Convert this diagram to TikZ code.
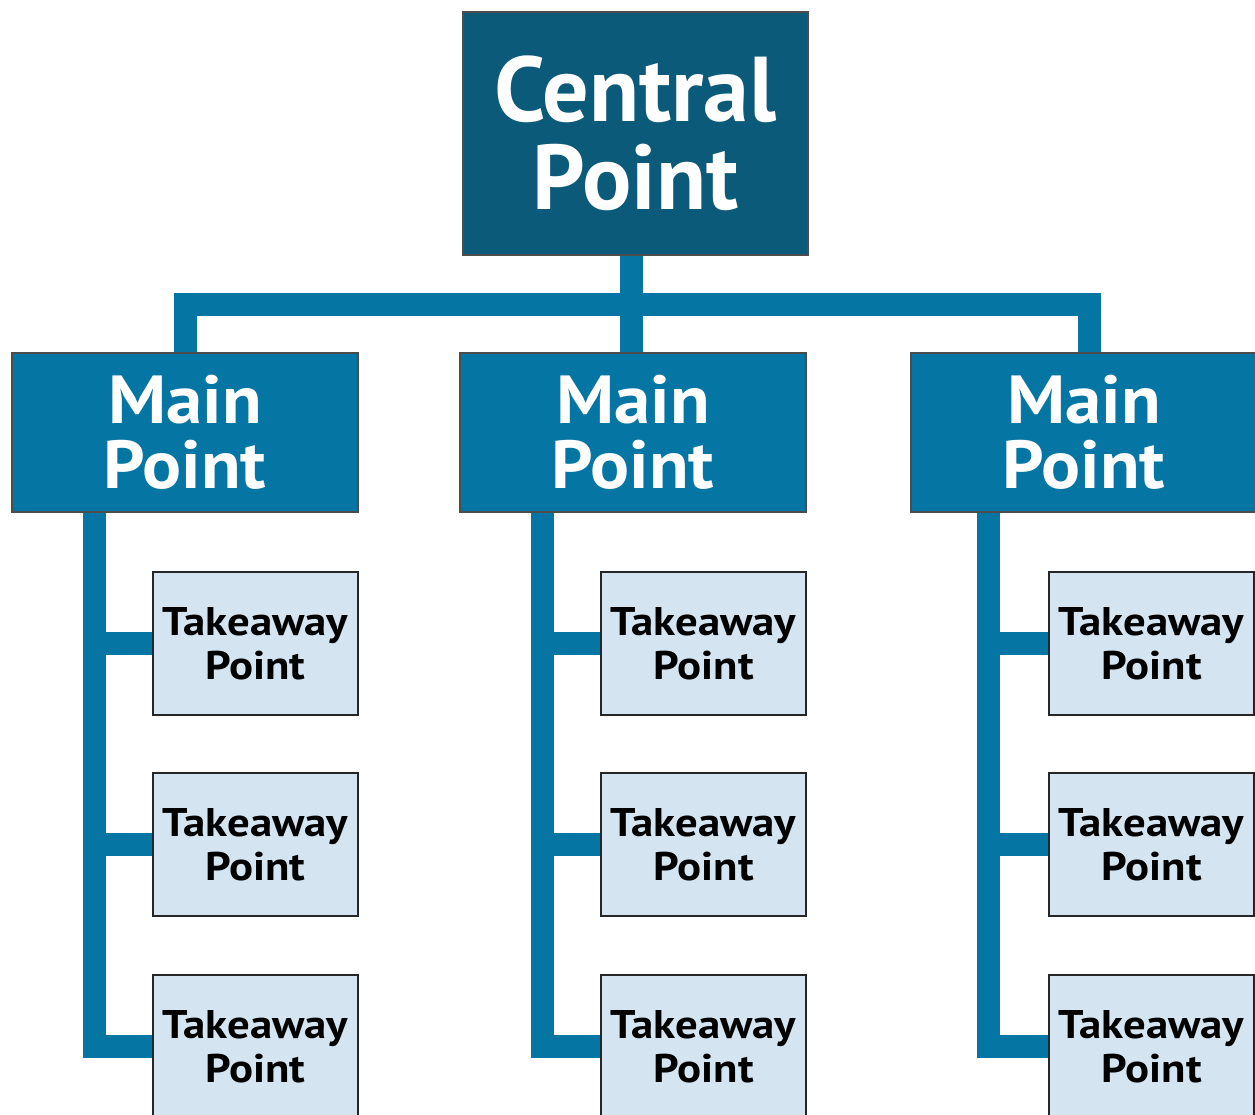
\documentclass[tikz,border=0pt]{standalone}
\usepackage{fontspec}
\setmainfont{PT Sans}
\newfontfamily\mainfont{PT Sans}[FakeStretch=1.07]
\newfontfamily\takefont{PT Sans}[FakeStretch=1.12]
\usetikzlibrary{backgrounds}
\definecolor{cdark}{RGB}{12,90,122}
\definecolor{cmain}{RGB}{5,117,163}
\definecolor{clight}{RGB}{212,228,240}
\begin{document}
\begin{tikzpicture}[x=1pt,y=-1pt,
  central/.style={draw=black!70,line width=1.2pt,fill=cdark,text=white,
    minimum width=345pt,minimum height=243pt,inner sep=0pt,align=center,
    font=\fontsize{92}{88}\selectfont\bfseries},
  mainbox/.style={draw=black!70,line width=1.2pt,fill=cmain,text=white,
    minimum width=346pt,minimum height=159pt,inner sep=0pt,align=center,
    font=\mainfont\fontsize{68}{65}\selectfont\bfseries},
  takebox/.style={draw=black!85,line width=2pt,fill=clight,text=black,
    minimum width=205pt,minimum height=143pt,inner sep=0pt,align=center,
    font=\takefont\fontsize{40}{44}\selectfont\bfseries},
  conn/.style={draw=cmain,line width=23pt,line cap=butt,line join=miter}]
\useasboundingbox (0,0) rectangle (1255,1114);
\clip (0,0) rectangle (1255,1114);
\node[central] (c) at (635.5,133.5) {Central\\Point};
\node[mainbox] (m1) at (185,432.5) {Main\\Point};
\node[mainbox] (m2) at (633,432.5) {Main\\Point};
\node[mainbox] (m3) at (1084,432.5) {Main\\Point};
\foreach \i/\x in {1/255.5,2/703.5,3/1151.5}{
  \node[takebox] (t\i1) at (\x,643.5) {Takeaway\\Point};
  \node[takebox] (t\i2) at (\x,844.5) {Takeaway\\Point};
  \node[takebox] (t\i3) at (\x,1046.5) {Takeaway\\Point};
}
\coordinate (bus) at (631,304);
\coordinate (v1) at (94,0);
\coordinate (v2) at (542,0);
\coordinate (v3) at (988.5,0);
\begin{scope}[on background layer]
\draw[conn] (c.south -| bus) -- (m2.north -| bus);
\draw[conn] (m1.north) |- (bus) -| (m3.north -| 1089,0);
\foreach \i in {1,2,3}{
  \draw[conn] (m\i.south -| v\i) |- (t\i3.west);
  \draw[conn] (t\i1.west) -- (t\i1.west -| v\i);
  \draw[conn] (t\i2.west) -- (t\i2.west -| v\i);
}
\end{scope}
\end{tikzpicture}
\end{document}
